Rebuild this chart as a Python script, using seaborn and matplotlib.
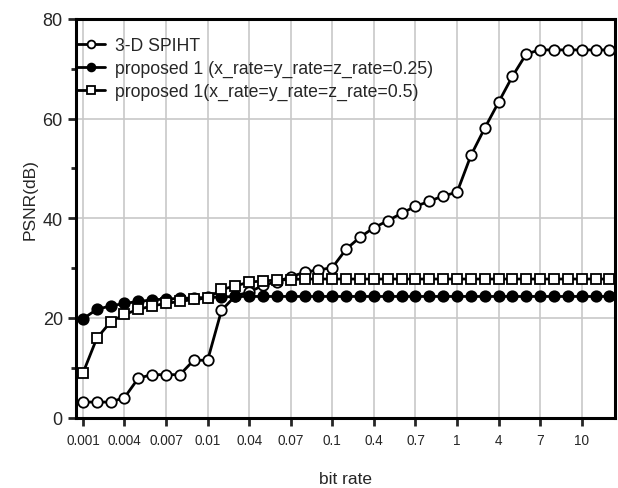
import numpy as np
import matplotlib
matplotlib.use("Agg")
import matplotlib.pyplot as plt
import seaborn as sns
from matplotlib.ticker import MultipleLocator

# bit rate categories (equally spaced on the x axis)
bit_rate = [
    "0.001", "0.002", "0.003", "0.004", "0.005", "0.006", "0.007", "0.008", "0.009",
    "0.01", "0.02", "0.03", "0.04", "0.05", "0.06", "0.07", "0.08", "0.09",
    "0.1", "0.2", "0.3", "0.4", "0.5", "0.6", "0.7", "0.8", "0.9",
    "1", "2", "3", "4", "5", "6", "7", "8", "9",
    "10", "20", "30",
]
tick_labels = ["0.001", "0.004", "0.007", "0.01", "0.04", "0.07", "0.1",
               "0.4", "0.7", "1", "4", "7", "10"]

spiht = [3.1, 3.1, 3.1, 4.0, 7.9, 8.6, 8.6, 8.6, 11.5,
         11.5, 21.5, 24.4, 25.2, 26.5, 27.3, 28.2, 29.2, 29.6,
         30.1, 33.8, 36.2, 38.1, 39.5, 41.0, 42.4, 43.4, 44.5,
         45.2, 52.6, 58.1, 63.3, 68.5, 73.0, 73.8, 73.8, 73.8,
         73.8, 73.8, 73.8]
prop_025 = [19.8, 21.7, 22.4, 22.9, 23.3, 23.6, 23.8, 23.9, 24.0,
            24.1, 24.2, 24.3, 24.3, 24.3, 24.3, 24.3, 24.3, 24.3,
            24.3, 24.3, 24.3, 24.3, 24.3, 24.3, 24.3, 24.3, 24.3,
            24.3, 24.3, 24.3, 24.3, 24.3, 24.3, 24.3, 24.3, 24.3,
            24.3, 24.3, 24.3]
prop_05 = [8.9, 15.9, 19.2, 20.7, 21.7, 22.4, 22.9, 23.3, 23.7,
           24.0, 25.7, 26.4, 27.2, 27.4, 27.6, 27.7, 27.8, 27.8,
           27.8, 27.8, 27.8, 27.8, 27.8, 27.8, 27.8, 27.8, 27.8,
           27.8, 27.8, 27.8, 27.8, 27.8, 27.8, 27.8, 27.8, 27.8,
           27.8, 27.8, 27.8]

sns.set_style("ticks")
plt.rcParams["font.family"] = ["Liberation Sans", "DejaVu Sans"]

fig = plt.figure(figsize=(6.18, 4.89), dpi=100)
ax = fig.add_axes([76 / 618, 1 - 418.5 / 489, 539 / 618, 398.5 / 489])

pos = np.arange(len(bit_rate))
common = dict(color="black", linewidth=2.0, markeredgecolor="black",
              markeredgewidth=1.3, ax=ax)

sns.lineplot(x=pos, y=spiht, marker="o", markersize=7.5, markerfacecolor="white",
             label="3-D SPIHT", **common)
sns.lineplot(x=pos, y=prop_025, marker="o", markersize=7.5, markerfacecolor="black",
             label="proposed 1 (x_rate=y_rate=z_rate=0.25)", **common)
sns.lineplot(x=pos, y=prop_05, marker="s", markersize=7.5, markerfacecolor="white",
             label="proposed 1(x_rate=y_rate=z_rate=0.5)", **common)

ax.set_xlim(-0.5, 38.4)
ax.set_ylim(0, 80)
ax.set_xticks(pos[::3])
ax.set_xticklabels(tick_labels, fontsize=9.8)
ax.yaxis.set_major_locator(MultipleLocator(20))
ax.yaxis.set_minor_locator(MultipleLocator(10))
ax.tick_params(axis="y", which="major", labelsize=13, length=5.5, width=2.0, pad=4)
ax.tick_params(axis="y", which="minor", length=3.5, width=2.0)
ax.tick_params(axis="x", which="major", length=5.5, width=2.0, pad=6)

ax.grid(True, which="major", color="#c8c8c8", linewidth=1.2)
ax.set_axisbelow(True)
for s in ax.spines.values():
    s.set_linewidth(2.2)
    s.set_color("black")

ax.set_xlabel("bit rate", fontsize=12.5, va="center")
ax.xaxis.set_label_coords(0.5, -0.154)
ax.set_ylabel("PSNR(dB)", fontsize=12.5, va="center")
ax.yaxis.set_label_coords(-0.085, 0.55)

leg = ax.legend(loc="upper left", bbox_to_anchor=(0.002, 0.955), borderaxespad=0,
                borderpad=0, frameon=False, fontsize=12.7, handlelength=1.6,
                handletextpad=0.55, labelspacing=0.33, markerscale=0.75)

fig.savefig("out.png", dpi=100)
